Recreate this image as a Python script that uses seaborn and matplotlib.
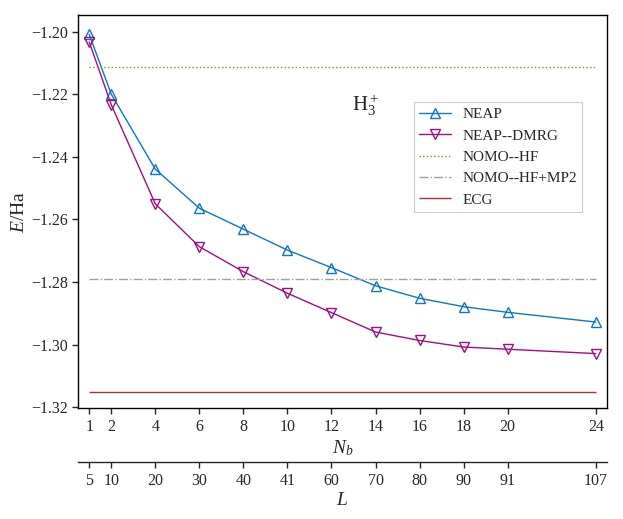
import matplotlib
matplotlib.use("Agg")
import matplotlib.pyplot as plt
import seaborn as sns
import numpy as np
import pandas as pd
from matplotlib.ticker import FuncFormatter

# ---- data ----
Nb = [1, 2, 4, 6, 8, 10, 12, 14, 16, 18, 20, 24]
L_labels = ["5", "10", "20", "30", "40", "41", "60", "70", "80", "90", "91", "107"]
neap = [-1.2008, -1.2199, -1.2439, -1.2564, -1.2631, -1.2698,
        -1.2754, -1.2812, -1.2852, -1.2879, -1.2897, -1.2928]
neap_dmrg = [-1.2032, -1.2233, -1.2550, -1.2687, -1.2767, -1.2836,
             -1.2898, -1.2960, -1.2987, -1.3008, -1.3015, -1.3029]
nomo_hf = -1.2111
nomo_hf_mp2 = -1.2790
ecg = -1.3151
yticks = [-1.20, -1.22, -1.24, -1.26, -1.28, -1.30, -1.32]

sns.set_style("ticks")
plt.rcParams['font.family'] = ['Liberation Serif', 'DejaVu Serif']
plt.rcParams['mathtext.fontset'] = 'custom'
plt.rcParams['mathtext.rm'] = 'Liberation Serif'
plt.rcParams['mathtext.it'] = 'Liberation Serif:italic'
plt.rcParams['mathtext.bf'] = 'Liberation Serif:bold'
plt.rcParams['axes.unicode_minus'] = True

fig = plt.figure(figsize=(6.23, 5.19), dpi=100)
ax = fig.add_axes([0.1252, 0.2139, 0.8491, 0.7571])

c_neap = '#0F76C0'
c_dmrg = '#9C0F80'
c_hf = '#7C9C08'
c_mp2 = '#A0A0A0'
c_ecg = '#B0303A'

df = pd.DataFrame({"Nb": Nb, "NEAP": neap, "NEAP--DMRG": neap_dmrg})
sns.lineplot(data=df, x="Nb", y="NEAP", ax=ax, color=c_neap, lw=1.0,
             marker='^', markersize=6.5, markerfacecolor='none',
             markeredgecolor=c_neap, markeredgewidth=1.0, label="NEAP")
sns.lineplot(data=df, x="Nb", y="NEAP--DMRG", ax=ax, color=c_dmrg, lw=1.0,
             marker='v', markersize=6.5, markerfacecolor='none',
             markeredgecolor=c_dmrg, markeredgewidth=1.0, label="NEAP--DMRG")
ax.hlines(nomo_hf, Nb[0], Nb[-1], colors=c_hf, linestyles=':', lw=1.0, label="NOMO--HF")
ax.hlines(nomo_hf_mp2, Nb[0], Nb[-1], colors=c_mp2, linestyles='-.', lw=1.0, label="NOMO--HF+MP2")
ax.hlines(ecg, Nb[0], Nb[-1], colors=c_ecg, linestyles='-', lw=1.0, label="ECG")

ax.set_xlim(0.49, 24.51)
ax.set_ylim(-1.3203, -1.1946)
ax.set_xticks(Nb)
ax.set_xticklabels([str(n) for n in Nb])
ax.set_yticks(yticks)
ax.yaxis.set_major_formatter(FuncFormatter(lambda v, p: f"{v:.2f}".replace('-', '\u2212')))
ax.tick_params(axis='both', labelsize=11.5, length=4.5, width=1, direction='out')
ax.tick_params(axis='y', pad=3)
ax.set_xlabel(r"$N_b$", fontsize=14, labelpad=2)
ax.set_ylabel(r"$E$/Ha", fontsize=14, labelpad=2)
for s in ax.spines.values():
    s.set_linewidth(1.0)
    s.set_color('black')

ax.text(12.95, -1.2253, r"H$_3^+$", fontsize=15)

leg = ax.legend(loc='upper left', bbox_to_anchor=(0.635, 0.778), fontsize=11,
                fancybox=False, edgecolor='#cccccc', framealpha=1,
                handlelength=2.1, handletextpad=0.72, borderpad=0.35,
                labelspacing=0.5, borderaxespad=0.0)
leg.get_frame().set_linewidth(0.8)

ax2 = ax.twiny()
ax2.set_xlim(ax.get_xlim())
ax2.xaxis.set_ticks_position('bottom')
ax2.xaxis.set_label_position('bottom')
ax2.spines['bottom'].set_position(('outward', 39))
for side in ['top', 'left', 'right']:
    ax2.spines[side].set_visible(False)
ax2.spines['bottom'].set_linewidth(1.0)
ax2.set_xticks(Nb)
ax2.set_xticklabels(L_labels)
ax2.tick_params(axis='x', labelsize=11.5, length=4.5, width=1, direction='out')
ax2.set_xlabel(r"$L$", fontsize=14, labelpad=2)

fig.savefig("out.png", dpi=100)
